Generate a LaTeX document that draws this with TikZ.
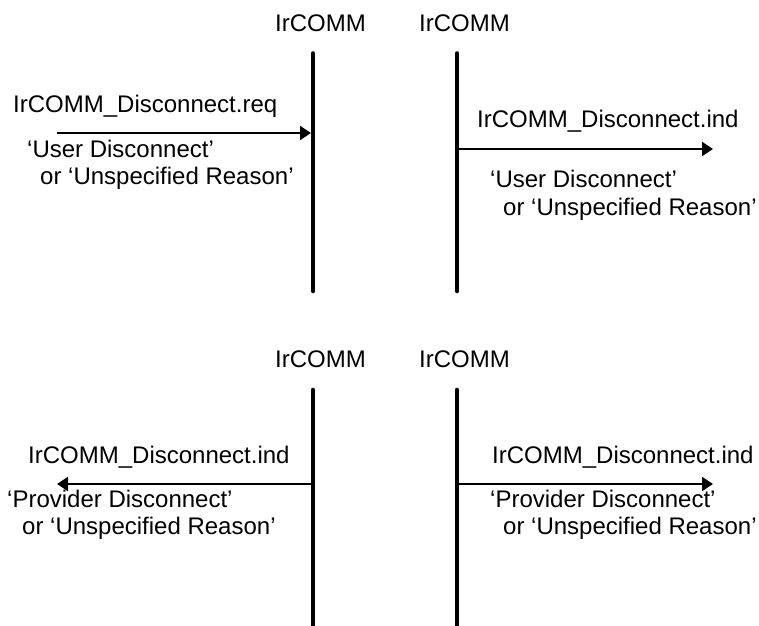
\documentclass[tikz,border=0pt]{standalone}
\usepackage{fontspec}
\setmainfont{Liberation Sans}
\usetikzlibrary{arrows.meta}
\begin{document}
\begin{tikzpicture}[x=1pt,y=-1pt,
  lbl/.style={anchor=base west,inner sep=0pt,font=\fontsize{24}{28}\selectfont},
  lifeline/.style={line width=4.6pt,line cap=round},
  msg/.style={line width=2pt,-{Triangle[length=11pt,width=14pt]}}]
\useasboundingbox (0,0) rectangle (759,625);
% lifelines
\coordinate (tl1) at (313,53.5); \coordinate (tl2) at (313,291);
\coordinate (tr1) at (457,53.5); \coordinate (tr2) at (457,291);
\coordinate (bl1) at (313,390); \coordinate (bl2) at (313,630);
\coordinate (br1) at (457,390); \coordinate (br2) at (457,630);
\draw[lifeline] (tl1) -- (tl2);
\draw[lifeline] (tr1) -- (tr2);
\draw[lifeline] (bl1) -- (bl2);
\draw[lifeline] (br1) -- (br2);
% headers
\node[lbl] (h1) at (275,31) {IrCOMM};
\node[lbl] (h2) at (419,31) {IrCOMM};
\node[lbl] (h3) at (275,367) {IrCOMM};
\node[lbl] (h4) at (419,367) {IrCOMM};
% arrow end points
\coordinate (a1s) at (57,133); \coordinate (a1e) at (311,133);
\coordinate (a2s) at (457,149); \coordinate (a2e) at (713,149);
\coordinate (a3s) at (313,484); \coordinate (a3e) at (57,484);
\coordinate (a4s) at (457,484); \coordinate (a4e) at (713,484);
\draw[msg] (a1s) -- (a1e);
\draw[msg] (a2s) -- (a2e);
\draw[msg] (a3s) -- (a3e);
\draw[msg] (a4s) -- (a4e);
% top-left labels
\node[lbl] (m1) at (13,112) {IrCOMM\_Disconnect.req};
\node[lbl] (p1a) at (27,157) {‘User Disconnect’};
\node[lbl] (p1b) at (40,184) {or ‘Unspecified Reason’};
% top-right labels
\node[lbl] (m2) at (477,127) {IrCOMM\_Disconnect.ind};
\node[lbl] (p2a) at (490,187) {‘User Disconnect’};
\node[lbl] (p2b) at (503,215) {or ‘Unspecified Reason’};
% bottom-left labels
\node[lbl] (m3) at (28,463) {IrCOMM\_Disconnect.ind};
\node[lbl] (p3a) at (7,507) {‘Provider Disconnect’};
\node[lbl] (p3b) at (22,534) {or ‘Unspecified Reason’};
% bottom-right labels
\node[lbl] (m4) at (492,463) {IrCOMM\_Disconnect.ind};
\node[lbl] (p4a) at (490,507) {‘Provider Disconnect’};
\node[lbl] (p4b) at (503,534) {or ‘Unspecified Reason’};
\end{tikzpicture}
\end{document}
